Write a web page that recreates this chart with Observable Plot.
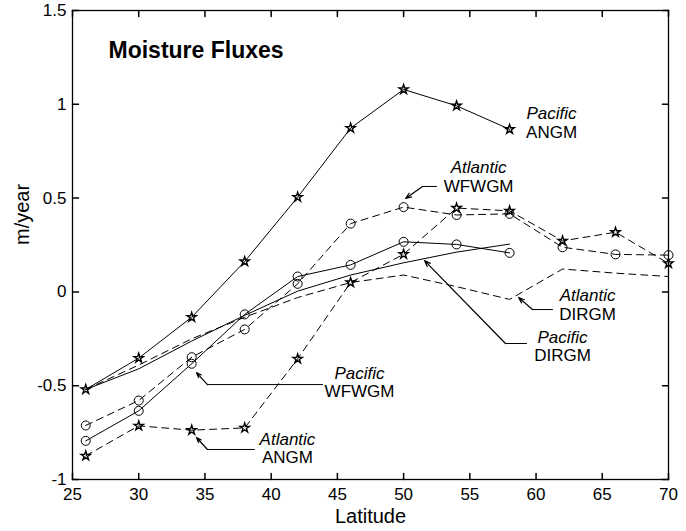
<!DOCTYPE html>
<html><head><meta charset="utf-8">
<script src="https://cdn.jsdelivr.net/npm/d3@7"></script>
<script src="https://cdn.jsdelivr.net/npm/@observablehq/plot@0.6"></script>
<style>
html,body{margin:0;padding:0;background:#fff;}
#chart svg{display:block;}
</style></head><body><div id="chart"></div>
<script>
// ---- data ----
const latShort = [26, 30, 34, 38, 42, 46, 50, 54, 58];
const latLong  = [26, 30, 34, 38, 42, 46, 50, 54, 58, 62, 66, 70];

const pacificANGM   = [-0.52, -0.353, -0.135, 0.162, 0.505, 0.873, 1.079, 0.992, 0.867];
const atlanticANGM  = [-0.874, -0.714, -0.737, -0.725, -0.357, 0.05, 0.201, 0.447, 0.432, 0.272, 0.318, 0.152];
const pacificWFWGM  = [-0.794, -0.634, -0.383, -0.12, 0.082, 0.144, 0.267, 0.253, 0.208];
const atlanticWFWGM = [-0.712, -0.579, -0.348, -0.2, 0.043, 0.364, 0.452, 0.41, 0.416, 0.238, 0.2, 0.196];
const pacificDIRGM  = [-0.52, -0.41, -0.262, -0.125, 0.004, 0.09, 0.155, 0.212, 0.255];
const atlanticDIRGM = [-0.52, -0.39, -0.25, -0.135, -0.03, 0.05, 0.09, 0.028, -0.04, 0.122, 0.1, 0.082];

const xTicks = [25, 30, 35, 40, 45, 50, 55, 60, 65, 70];
const yTicks = [-1, -0.5, 0, 0.5, 1, 1.5];

const titleText = "Moisture Fluxes";
const xLabel = "Latitude";
const yLabel = "m/year";

// annotation labels (italic basin + model name)
const annoLabels = [
  {top: "Pacific",  bottom: "ANGM",  lat: 61.17, yTop: 0.95,   yBottom: 0.85},
  {top: "Atlantic", bottom: "WFWGM", lat: 55.66, yTop: 0.662,  yBottom: 0.562},
  {top: "Atlantic", bottom: "DIRGM", lat: 63.89, yTop: -0.022, yBottom: -0.122},
  {top: "Pacific",  bottom: "DIRGM", lat: 62.0,  yTop: -0.241, yBottom: -0.341},
  {top: "Pacific",  bottom: "WFWGM", lat: 46.67, yTop: -0.433, yBottom: -0.533},
  {top: "Atlantic", bottom: "ANGM",  lat: 41.23, yTop: -0.785, yBottom: -0.885}
];
// leader lines: start (near text), bend, arrow tip
const leaders = [
  {name: "Atlantic WFWGM", start: [52.48, 0.562],  bend: [51.43, 0.562],  tip: [50.14, 0.498]},
  {name: "Atlantic DIRGM", start: [61.24, -0.094], bend: [59.73, -0.094], tip: [58.68, -0.03]},
  {name: "Pacific DIRGM",  start: [59.28, -0.275], bend: [57.69, -0.275], tip: [51.58, 0.167]},
  {name: "Pacific WFWGM",  start: [43.88, -0.494], bend: [35.19, -0.494], tip: [34.36, -0.43]},
  {name: "Atlantic ANGM",  start: [38.74, -0.84],  bend: [35.19, -0.84],  tip: [34.36, -0.776]}
];

// ---- build tables ----
const rows = (lats, vals, name) => lats.map((lat, i) => ({lat, v: vals[i], name}));
const series = [
  {data: rows(latShort, pacificANGM, "Pacific ANGM"),    dash: null,  symbol: "star"},
  {data: rows(latLong, atlanticANGM, "Atlantic ANGM"),   dash: "7,5", symbol: "star"},
  {data: rows(latShort, pacificWFWGM, "Pacific WFWGM"),  dash: null,  symbol: "circle"},
  {data: rows(latLong, atlanticWFWGM, "Atlantic WFWGM"), dash: "7,5", symbol: "circle"},
  {data: rows(latShort, pacificDIRGM, "Pacific DIRGM"),  dash: null,  symbol: null},
  {data: rows(latLong, atlanticDIRGM, "Atlantic DIRGM"), dash: "7,5", symbol: null}
];

const leaderLines = leaders.flatMap(d => [
  {name: d.name, lat: d.start[0], v: d.start[1]},
  {name: d.name, lat: d.bend[0], v: d.bend[1]}
]);

const tickShape = {draw(context, l) { context.moveTo(0, 0); context.lineTo(0, -l); }};
const fmt = d => String(d);
const black = "black";

const marks = [];
for (const s of series) {
  marks.push(Plot.line(s.data, {x: "lat", y: "v", stroke: black, strokeWidth: 1, strokeDasharray: s.dash}));
  if (s.symbol === "circle") marks.push(Plot.dot(s.data, {x: "lat", y: "v", symbol: "circle", r: 4.5, stroke: black, fill: "none", strokeWidth: 1}));
  if (s.symbol === "star") marks.push(Plot.dot(s.data, {x: "lat", y: "v", symbol: "star", r: 2.9, stroke: black, fill: "none", strokeWidth: 1.4}));
}

marks.push(
  Plot.line(leaderLines, {x: "lat", y: "v", z: "name", stroke: black, strokeWidth: 1}),
  Plot.arrow(leaders, {x1: d => d.bend[0], y1: d => d.bend[1], x2: d => d.tip[0], y2: d => d.tip[1], stroke: black, strokeWidth: 1.2, headLength: 8, headAngle: 40}),
  Plot.text(annoLabels, {x: "lat", y: "yTop", text: "top", fontStyle: "italic", fontSize: 17, textAnchor: "middle", fill: black}),
  Plot.text(annoLabels, {x: "lat", y: "yBottom", text: "bottom", fontSize: 17, textAnchor: "middle", fill: black}),
  Plot.text([titleText], {text: d => d, frameAnchor: "top-left", dx: 36, dy: 31, textAnchor: "start", fontWeight: "bold", fontSize: 23, fill: black}),
  Plot.text([xLabel], {text: d => d, frameAnchor: "bottom", dy: 43, fontSize: 20, fill: black}),
  Plot.text([yLabel], {text: d => d, frameAnchor: "left", dx: -50, rotate: -90, fontSize: 20, fill: black}),
  Plot.axisX({ticks: xTicks, tickSize: 0, tickPadding: 8, tickFormat: fmt, fontSize: 17, label: null}),
  Plot.axisY({ticks: yTicks, tickSize: 0, tickPadding: 6, tickFormat: fmt, fontSize: 17, label: null}),
  Plot.vector(xTicks, {x: d => d, frameAnchor: "bottom", length: 6, rotate: 0, anchor: "start", shape: tickShape, stroke: black}),
  Plot.vector(xTicks, {x: d => d, frameAnchor: "top", length: 6, rotate: 180, anchor: "start", shape: tickShape, stroke: black}),
  Plot.vector(yTicks, {y: d => d, frameAnchor: "left", length: 6, rotate: 90, anchor: "start", shape: tickShape, stroke: black}),
  Plot.vector(yTicks, {y: d => d, frameAnchor: "right", length: 6, rotate: -90, anchor: "start", shape: tickShape, stroke: black}),
  Plot.frame({stroke: black, strokeWidth: 1.3})
);

const chart = Plot.plot({
  width: 686,
  height: 531,
  marginLeft: 72,
  marginRight: 18,
  marginTop: 10,
  marginBottom: 52,
  style: {fontFamily: "'Liberation Sans', Arial, Helvetica, sans-serif", fontSize: "17px", background: "white", color: "black"},
  x: {domain: [25, 70]},
  y: {domain: [-1, 1.5]},
  marks
});
document.getElementById("chart").appendChild(chart);
</script>
</body></html>
